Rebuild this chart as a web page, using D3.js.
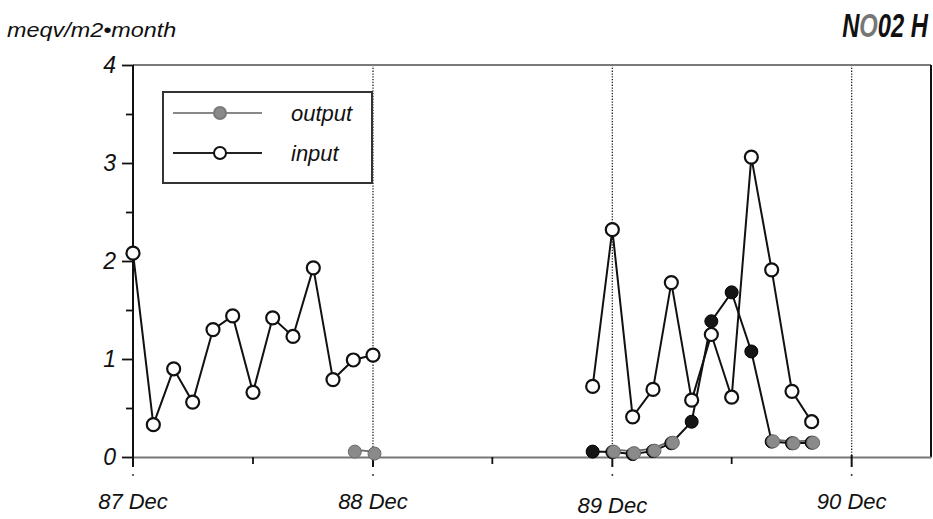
<!DOCTYPE html>
<html>
<head>
<meta charset="utf-8">
<script src="https://cdn.jsdelivr.net/npm/d3@7"></script>
<style>
  html, body { margin: 0; padding: 0; background: #fff; }
  svg { display: block; }
  .lbl { font-family: "Liberation Sans", Arial, sans-serif; font-style: italic; fill: #111; }
</style>
</head>
<body>
<svg id="chart" width="933" height="519"></svg>
<script>
// Monthly deposition, meqv/m2 per month
const months = [
  "1987-12",
  "1988-01","1988-02","1988-03","1988-04","1988-05","1988-06",
  "1988-07","1988-08","1988-09","1988-10","1988-11","1988-12",
  "1989-01","1989-02","1989-03","1989-04","1989-05","1989-06",
  "1989-07","1989-08","1989-09","1989-10","1989-11","1989-12",
  "1990-01","1990-02","1990-03","1990-04","1990-05","1990-06",
  "1990-07","1990-08","1990-09","1990-10"
];
const inputValues = [
  2.08,
  0.33, 0.90, 0.56, 1.30, 1.44, 0.66,
  1.42, 1.23, 1.93, 0.79, 0.99, 1.04,
  null, null, null, null, null, null,
  null, null, null, null, 0.72, 2.32,
  0.41, 0.69, 1.78, 0.58, 1.25, 0.61,
  3.06, 1.91, 0.67, 0.36
];
const outputValues = [
  null,
  null, null, null, null, null, null,
  null, null, null, null, 0.055, 0.035,
  null, null, null, null, null, null,
  null, null, null, null, null, 0.055,
  0.04, 0.065, 0.146, null, null, null,
  null, 0.16, 0.14, 0.146
];
const outputDarkValues = [
  null,
  null, null, null, null, null, null,
  null, null, null, null, null, null,
  null, null, null, null, null, null,
  null, null, null, null, 0.055, 0.05,
  0.03, 0.06, 0.14, 0.36, 1.385, 1.68,
  1.077, 0.157, 0.14, 0.146
];
const yTickLabels = ["0", "1", "2", "3", "4"];
const yearTicks = ["1987-12", "1988-12", "1989-12", "1990-12"];
const yearTickLabels = ["87 Dec", "88 Dec", "89 Dec", "90 Dec"];
const midTicks = ["1988-06", "1989-06", "1990-06"];
const legendLabels = ["output", "input"];

const parse = d3.timeParse("%Y-%m");
const svg = d3.select("#chart");

const plotLeft = 133, plotRight = 931, plotTop = 65, plotBottom = 457;
const x = d3.scaleTime()
  .domain([parse("1987-12"), parse("1991-04")])
  .range([plotLeft, plotRight]);
const y = d3.scaleLinear().domain([0, 4]).range([plotBottom, plotTop]);

const seriesOf = vals => months.map((m, i) => ({ date: parse(m), value: vals[i] }));
const input = seriesOf(inputValues);
const output = seriesOf(outputValues);
const outputDark = seriesOf(outputDarkValues);

// Dotted year separators
svg.append("g").selectAll("line")
  .data(yearTicks.slice(1))
  .join("line")
  .attr("x1", d => x(parse(d))).attr("x2", d => x(parse(d)))
  .attr("y1", plotTop).attr("y2", plotBottom)
  .attr("stroke", "#222").attr("stroke-width", 1.3)
  .attr("stroke-dasharray", "1.3,1.5");

// Frame: top and right edges
svg.append("line")
  .attr("x1", plotLeft).attr("x2", plotRight).attr("y1", plotTop).attr("y2", plotTop)
  .attr("stroke", "#7a7a7a").attr("stroke-width", 2);
svg.append("line")
  .attr("x1", plotRight).attr("x2", plotRight).attr("y1", plotTop).attr("y2", plotBottom)
  .attr("stroke", "#111").attr("stroke-width", 2);

// Y axis with half-unit ticks
const yAxis = d3.axisLeft(y)
  .tickValues(d3.range(0, 4.01, 0.5))
  .tickSize(0)
  .tickFormat("");
const yg = svg.append("g").attr("transform", `translate(${plotLeft},0)`).call(yAxis);
yg.select(".domain").remove();
yg.selectAll(".tick line")
  .attr("x1", d => Number.isInteger(d) ? -11 : -7)
  .attr("x2", 1)
  .attr("stroke", "#111").attr("stroke-width", 1.8);
svg.append("line")
  .attr("x1", plotLeft).attr("x2", plotLeft).attr("y1", plotTop).attr("y2", plotBottom + 10)
  .attr("stroke", "#111").attr("stroke-width", 2);
svg.append("g").selectAll("text")
  .data(yTickLabels)
  .join("text")
  .attr("class", "lbl")
  .attr("x", 116).attr("y", d => y(+d) + 8)
  .attr("text-anchor", "end")
  .attr("font-size", 23)
  .text(d => d);

// X axis
const xAxis = d3.axisBottom(x).tickValues([]).tickSize(0);
const xg = svg.append("g").attr("transform", `translate(0,${plotBottom})`).call(xAxis);
xg.select(".domain").attr("stroke", "#777").attr("stroke-width", 2);
svg.append("g").selectAll("line")
  .data(yearTicks)
  .join("line")
  .attr("x1", d => x(parse(d))).attr("x2", d => x(parse(d)))
  .attr("y1", plotBottom - 2).attr("y2", plotBottom + 10)
  .attr("stroke", "#111").attr("stroke-width", 2);
svg.append("g").selectAll("circle")
  .data(yearTicks)
  .join("circle")
  .attr("cx", d => x(parse(d))).attr("cy", plotBottom + 18).attr("r", 1)
  .attr("fill", "#333");
svg.append("g").selectAll("line")
  .data(midTicks)
  .join("line")
  .attr("x1", d => x(parse(d))).attr("x2", d => x(parse(d)))
  .attr("y1", plotBottom).attr("y2", plotBottom + 7)
  .attr("stroke", "#111").attr("stroke-width", 1.8);
svg.append("g").selectAll("text")
  .data(yearTicks)
  .join("text")
  .attr("class", "lbl")
  .attr("x", d => x(parse(d)))
  .attr("y", (d, i) => i === 2 ? 513 : 509)
  .attr("text-anchor", "middle")
  .attr("font-size", 22)
  .text((d, i) => yearTickLabels[i]);

// Lines
const line = d3.line()
  .defined(d => d.value !== null)
  .x(d => x(d.date)).y(d => y(d.value));

svg.append("path").datum(input)
  .attr("d", line).attr("fill", "none")
  .attr("stroke", "#111").attr("stroke-width", 2);
svg.append("path").datum(outputDark)
  .attr("d", line).attr("fill", "none")
  .attr("stroke", "#111").attr("stroke-width", 2);
svg.append("path").datum(output)
  .attr("d", line).attr("fill", "none")
  .attr("stroke", "#666").attr("stroke-width", 1.8)
  .attr("transform", "translate(0,-2)");

// Markers
svg.append("g").selectAll("circle")
  .data(outputDark.filter(d => d.value !== null))
  .join("circle")
  .attr("cx", d => x(d.date)).attr("cy", d => y(d.value)).attr("r", 6.5)
  .attr("fill", "#151515").attr("stroke", "#000").attr("stroke-width", 1);
svg.append("g").selectAll("circle")
  .data(output.filter(d => d.value !== null))
  .join("circle")
  .attr("cx", d => x(d.date) + 1.5).attr("cy", d => y(d.value)).attr("r", 6.5)
  .attr("fill", "#8a8a8a").attr("stroke", "#6a6a6a").attr("stroke-width", 1);
svg.append("g").selectAll("circle")
  .data(input.filter(d => d.value !== null))
  .join("circle")
  .attr("cx", d => x(d.date)).attr("cy", d => y(d.value)).attr("r", 6.5)
  .attr("fill", "#fff").attr("stroke", "#111").attr("stroke-width", 2.2);

// Legend
const lg = svg.append("g");
lg.append("rect")
  .attr("x", 163).attr("y", 92).attr("width", 209).attr("height", 91)
  .attr("fill", "#fff").attr("stroke", "#333").attr("stroke-width", 2);
const legendRows = [
  { label: legendLabels[0], y: 113, stroke: "#888", fill: "#8a8a8a", cstroke: "#7a7a7a" },
  { label: legendLabels[1], y: 153, stroke: "#222", fill: "#fff", cstroke: "#111" }
];
legendRows.forEach(r => {
  lg.append("line").attr("x1", 173).attr("x2", 262).attr("y1", r.y).attr("y2", r.y)
    .attr("stroke", r.stroke).attr("stroke-width", 2);
  lg.append("circle").attr("cx", 220).attr("cy", r.y).attr("r", 6)
    .attr("fill", r.fill).attr("stroke", r.cstroke).attr("stroke-width", 2);
  lg.append("text").attr("class", "lbl")
    .attr("x", 291).attr("y", r.y + 8).attr("font-size", 22).text(r.label);
});

// Unit label, widened a little
svg.append("text").attr("class", "lbl")
  .attr("transform", "translate(7,37) scale(1.17,1)")
  .attr("font-size", 20)
  .text("meqv/m2\u2022month");

// Station title in a condensed heavy italic
const title = svg.append("text")
  .attr("transform", "translate(928,37) scale(0.72,1)")
  .attr("text-anchor", "end")
  .attr("font-family", "'Liberation Sans', Arial, sans-serif")
  .attr("font-style", "italic").attr("font-weight", "bold")
  .attr("font-size", 33).attr("fill", "#111");
title.append("tspan").text("N");
title.append("tspan").attr("fill", "#777").text("O");
title.append("tspan").text("02 H");
</script>
</body>
</html>
